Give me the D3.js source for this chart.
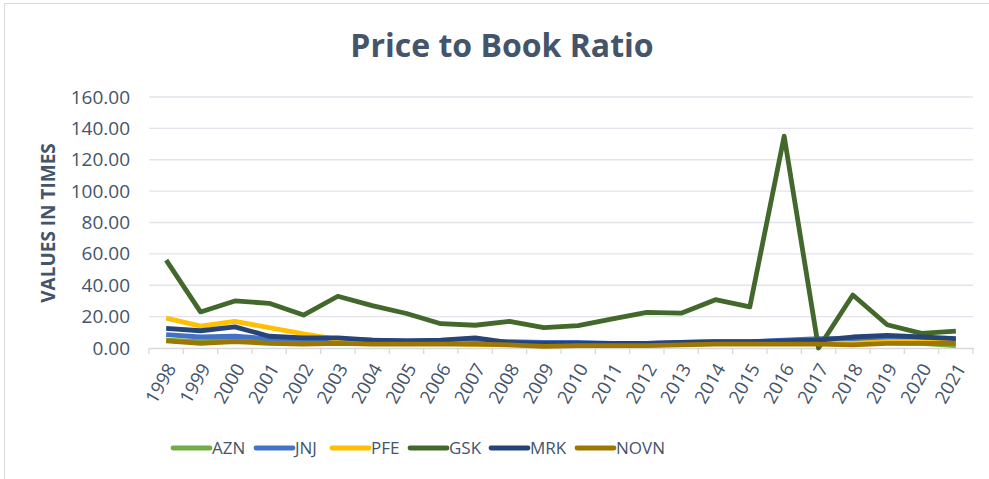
<!DOCTYPE html>
<html lang="en">
<head>
<meta charset="utf-8">
<title>Price to Book Ratio</title>
<script src="https://d3js.org/d3.v7.min.js"></script>
<style>
  body { margin: 0; background: #ffffff; }
  text { font-family: "Open Sans", "Liberation Sans", sans-serif; fill: #44546A; }
</style>
</head>
<body>
<div id="my_dataviz"></div>
<script>
// data
var years = ["1998","1999","2000","2001","2002","2003","2004","2005","2006","2007","2008","2009",
             "2010","2011","2012","2013","2014","2015","2016","2017","2018","2019","2020","2021"];
var azn  = [5, 4, 4.5, 3.5, 3, 3.5, 3, 3, 3, 2.5, 2.5, 2, 2, 2, 2, 2.5, 3, 3, 3, 3, 3.5, 3.5, 3, 1.5];
var jnj  = [8.5, 7, 7.5, 6, 5.5, 5.5, 5, 4.5, 4.5, 4, 4, 3.5, 3.5, 3, 3, 3.5, 4, 4, 5, 6, 6, 6.5, 6, 5.5];
var pfe  = [19, 14, 17, 13, 9, 5.5, 4, 3.5, 3, 2.5, 2, 1.5, 1.5, 2, 2, 2.5, 3, 3, 3, 3.5, 3, 4, 4, 3.5];
var gsk  = [56, 23, 30, 28.5, 21, 33, 27, 22, 15.5, 14.5, 17, 13, 14.3, 18.5, 22.7, 22.2, 30.8, 26.2, 135, 0, 33.8, 14.8, 9.3, 10.8];
var mrk  = [12.5, 11, 13.5, 7.5, 6.5, 6.5, 5, 4.5, 5, 6.5, 3.5, 3, 3, 3, 3, 3.5, 4, 4, 4.5, 5, 7, 8, 7, 6];
var novn = [4.5, 3, 4, 3, 2.5, 3, 2.5, 2.5, 2.5, 2.5, 2, 1, 1.5, 1.5, 1.5, 2, 2.5, 2.5, 2.5, 2.5, 2, 3, 3, 3];
var seriesNames = ["AZN", "JNJ", "PFE", "GSK", "MRK", "NOVN"];
var seriesColors = ["#70AD47", "#4472C4", "#FFC000", "#43682B", "#264478", "#9E7700"];
var yTicks = [0, 20, 40, 60, 80, 100, 120, 140, 160];

var series = [azn, jnj, pfe, gsk, mrk, novn];

var W = 989, H = 479;
var svg = d3.select("#my_dataviz").append("svg")
  .attr("width", W).attr("height", H);

// chart border
svg.append("rect")
  .attr("x", 4.5).attr("y", 3.5).attr("width", W + 10).attr("height", H)
  .attr("fill", "none").attr("stroke", "#d9d9d9");

// scales
var x = d3.scaleBand().domain(years).range([149, 973]);
var y = d3.scaleLinear().domain([0, 160]).range([348, 97]);

// gridlines
svg.append("g").selectAll("line")
  .data(yTicks.slice(1))
  .enter().append("line")
    .attr("x1", 149).attr("x2", 973)
    .attr("y1", function(d){ return y(d); })
    .attr("y2", function(d){ return y(d); })
    .attr("stroke", "#e1e4ea").attr("stroke-width", 1.3);

// y axis labels
var yAxis = svg.append("g")
  .attr("transform", "translate(130,0)")
  .call(d3.axisLeft(y).tickValues(yTicks).tickSize(0).tickFormat(d3.format(".2f")));
yAxis.select(".domain").remove();
yAxis.selectAll("text")
  .style("font-size", "19px").style("fill", "#44546A")
  .attr("x", 0);

// x axis
var xAxis = svg.append("g")
  .attr("transform", "translate(0,348)")
  .call(d3.axisBottom(x).tickSize(0));
xAxis.select(".domain").attr("stroke", "#d9d9d9").attr("stroke-width", 1.3);
// small ticks at the category boundaries
svg.append("g").selectAll("line")
  .data(d3.range(years.length + 1))
  .enter().append("line")
    .attr("x1", function(i){ return 149 + i * x.step(); })
    .attr("x2", function(i){ return 149 + i * x.step(); })
    .attr("y1", 348).attr("y2", 354)
    .attr("stroke", "#d9d9d9").attr("stroke-width", 1.3);
xAxis.selectAll("text")
  .style("font-size", "18.5px").style("fill", "#44546A")
  .attr("text-anchor", "end")
  .attr("dy", "0.35em")
  .attr("transform", function(){ return "translate(5,17) rotate(-60)"; })
  .attr("y", 0).attr("x", 0);

// lines
var line = d3.line()
  .x(function(d, i){ return x(years[i]) + x.bandwidth() / 2; })
  .y(function(d){ return y(d); });

svg.append("g").selectAll("path")
  .data(series)
  .enter().append("path")
    .attr("d", function(d){ return line(d); })
    .attr("fill", "none")
    .attr("stroke", function(d, i){ return seriesColors[i]; })
    .attr("stroke-width", 4.8)
    .attr("stroke-linejoin", "round");

// title
svg.append("text")
  .attr("x", 502).attr("y", 57)
  .attr("text-anchor", "middle")
  .style("font-size", "32px").style("font-weight", "bold")
  .text("Price to Book Ratio");

// y axis title
svg.append("text")
  .attr("transform", "translate(55,223) rotate(-90)")
  .attr("text-anchor", "middle")
  .style("font-size", "19px").style("font-weight", "bold")
  .text("VALUES IN TIMES");

// legend
var legendX = [173, 256, 332, 410, 491, 577];
var legend = svg.append("g").selectAll("g")
  .data(seriesNames)
  .enter().append("g")
    .attr("transform", function(d, i){ return "translate(" + legendX[i] + ",448)"; });
legend.append("line")
  .attr("x1", 0).attr("x2", 37).attr("y1", 0).attr("y2", 0)
  .attr("stroke", function(d, i){ return seriesColors[i]; })
  .attr("stroke-width", 4.8).attr("stroke-linecap", "round");
legend.append("text")
  .attr("x", 39).attr("y", 0).attr("dy", "0.35em")
  .style("font-size", "17px")
  .text(function(d){ return d; });
</script>
</body>
</html>
